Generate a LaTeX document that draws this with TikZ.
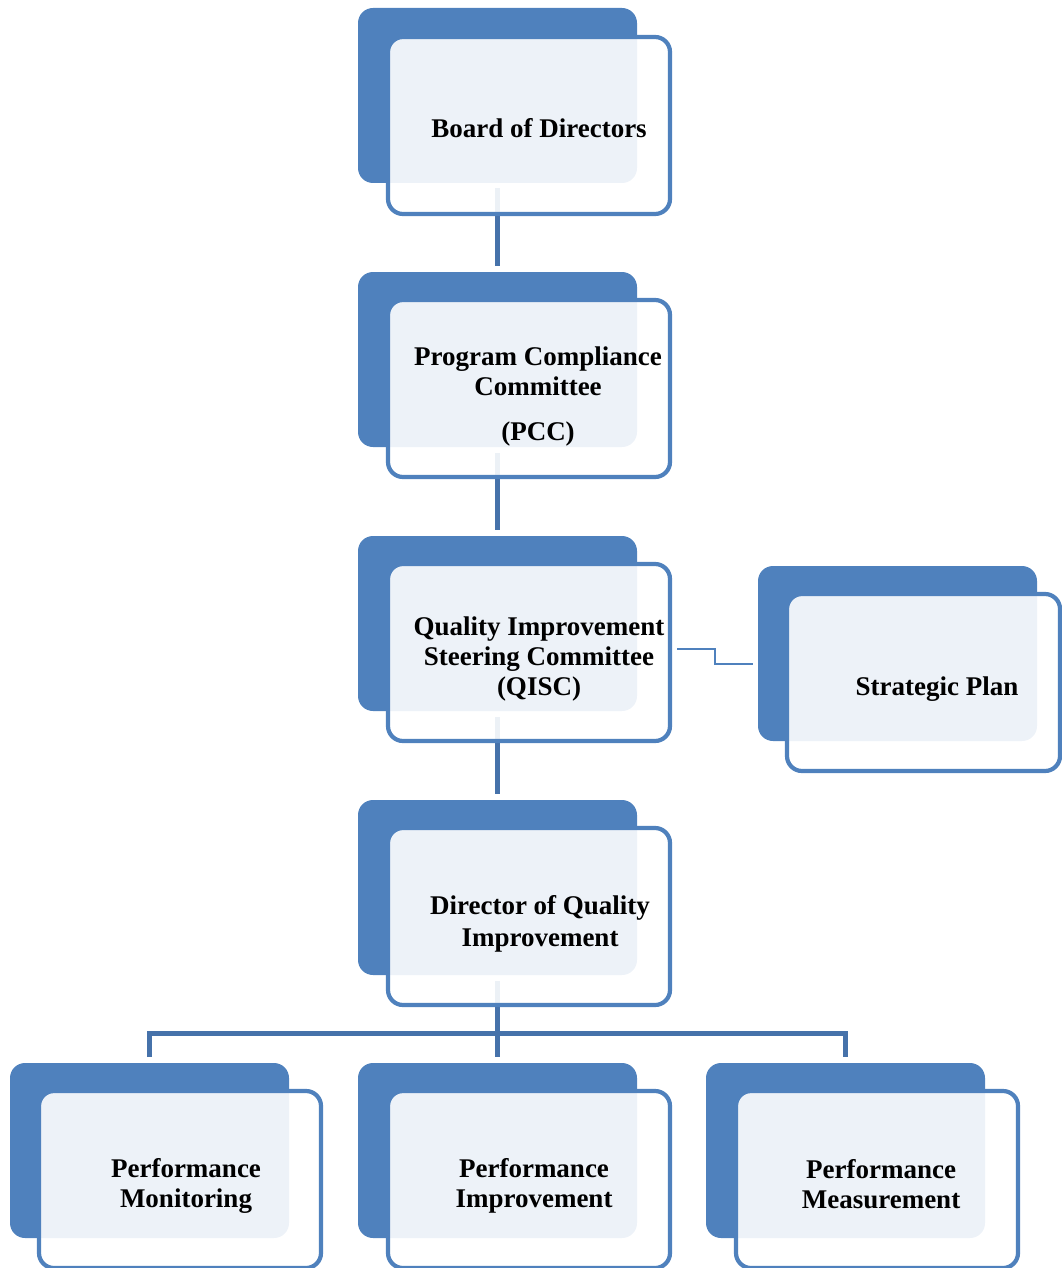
\documentclass[tikz,border=0pt]{standalone}
\usepackage{fontspec}
\setmainfont{Liberation Serif}
\usetikzlibrary{calc}
\definecolor{accent}{HTML}{4F81BD}
\definecolor{linkblue}{HTML}{4672AA}
\begin{document}
\begin{tikzpicture}[x=1pt,y=-1pt,
  backbox/.style={fill=accent, rounded corners=15pt, minimum width=279pt,
    minimum height=175pt, inner sep=0pt, outer sep=0pt, anchor=north west},
  frontbox/.style={draw=accent, line width=4.2pt, fill=white, fill opacity=0.9,
    rounded corners=15pt, minimum width=282pt, minimum height=177pt,
    inner sep=0pt, outer sep=0pt, anchor=north west},
  boxlabel/.style={font=\fontsize{27}{29.5}\selectfont\bfseries,
    align=center, text=black, inner sep=0pt},
  trunk/.style={draw=linkblue, line width=5pt},
  elbow/.style={draw=accent, line width=2pt}]
\useasboundingbox (0,0) rectangle (1062,1268);
\clip (0,0) rectangle (1062,1268);

% solid back panels
\node[backbox] (board-back) at (358,8) {};
\node[backbox] (pcc-back)   at (358,272) {};
\node[backbox] (qisc-back)  at (358,536) {};
\node[backbox] (strat-back) at (758,566) {};
\node[backbox] (dir-back)   at (358,800) {};
\node[backbox] (pm-back)    at (10,1063) {};
\node[backbox] (pi-back)    at (358,1063) {};
\node[backbox] (pmeas-back) at (706,1063) {};

% connectors (behind the translucent front panels)
\draw[trunk] ([yshift=-5pt]board-back.south) -- ([yshift=6pt]pcc-back.north);
\draw[trunk] ([yshift=-6pt]pcc-back.south) -- ([yshift=6pt]qisc-back.north);
\draw[trunk] ([yshift=-6pt]qisc-back.south) -- ([yshift=6pt]dir-back.north);
\draw[trunk] ([yshift=-6pt]dir-back.south) -- ([yshift=6pt]pi-back.north);
\coordinate (bus) at (497.5,1033);
\draw[trunk] ([yshift=6pt]pm-back.north) -- (pm-back.north |- bus)
  -- (pmeas-back.north |- bus) -- ([yshift=6pt]pmeas-back.north);

% translucent front panels
\node[frontbox] (board-front) at (388,37) {};
\node[frontbox] (pcc-front)   at (388,300) {};
\node[frontbox] (qisc-front)  at (388,564) {};
\node[frontbox, minimum width=273pt] (strat-front) at (787,594) {};
\node[frontbox] (dir-front)   at (388,828) {};
\node[frontbox] (pm-front)    at (39,1091) {};
\node[frontbox] (pi-front)    at (388,1091) {};
\node[frontbox] (pmeas-front) at (736,1091) {};

% side link to the strategic plan
\coordinate (qisc-out) at ([xshift=7pt,yshift=4pt]qisc-front.east);
\coordinate (strat-in) at ([xshift=-5pt,yshift=-10pt]strat-back.west);
\draw[elbow] (qisc-out) -- ++(38,0) |- (strat-in);

% labels
\node[boxlabel] (board-text) at (539,128) {Board of Directors};
\node[boxlabel] (pcc-text)   at (538,397) {Program Compliance\\Committee\\[16pt](PCC)};
\node[boxlabel] (qisc-text)  at (539,659) {Quality Improvement\\Steering Committee\\(QISC)};
\node[boxlabel] (strat-text) at (937,689) {Strategic Plan};
\node[boxlabel] (dir-text)   at (540,924) {Director of Quality\\[2pt]Improvement};
\node[boxlabel] (pm-text)    at (186,1186) {Performance\\Monitoring};
\node[boxlabel] (pi-text)    at (534,1186) {Performance\\Improvement};
\node[boxlabel] (pmeas-text) at (881,1184) {Performance\\Measurement};
\end{tikzpicture}
\end{document}
